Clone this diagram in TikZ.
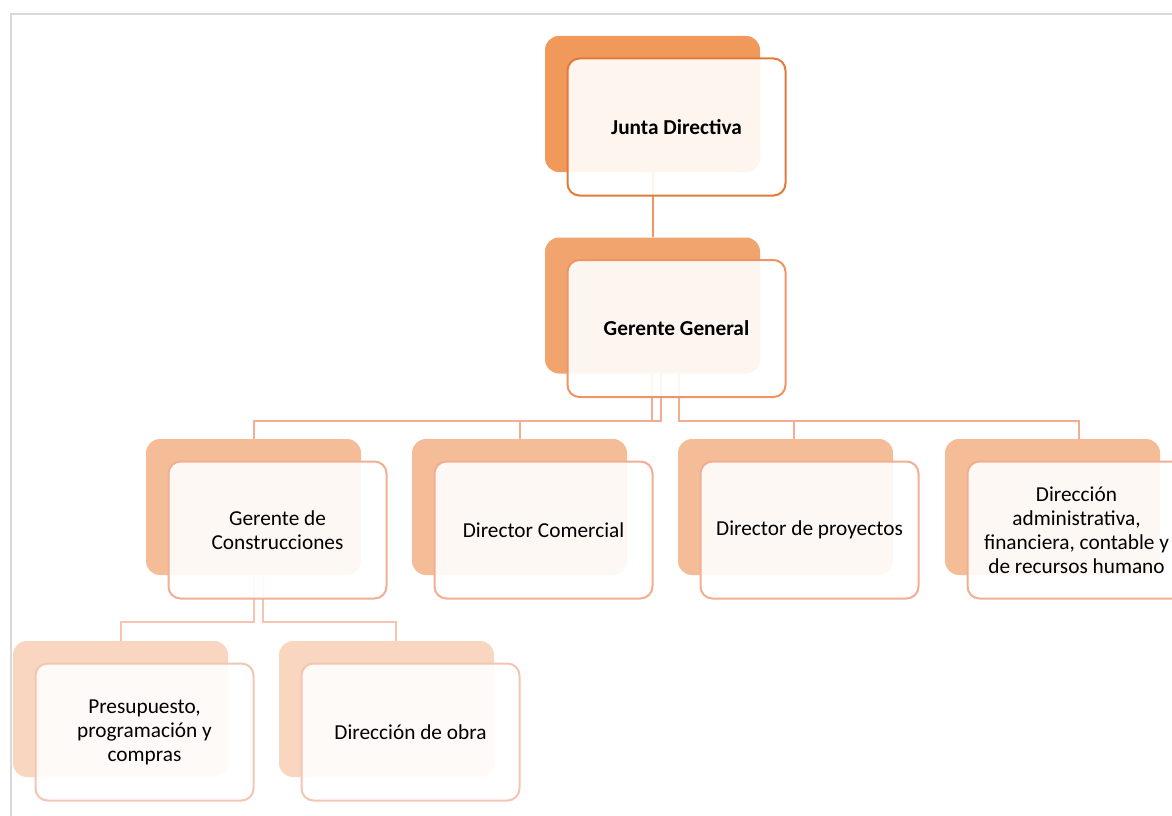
\documentclass[tikz,border=0pt]{standalone}
\usepackage{fontspec}
\setmainfont{Carlito}

\definecolor{framegrey}{HTML}{D9D9D9}
\definecolor{oneback}{HTML}{F0995B}
\definecolor{oneline}{HTML}{E07B39}
\definecolor{twoback}{HTML}{F2A46F}
\definecolor{twoline}{HTML}{EF9565}
\definecolor{threeback}{HTML}{F5BD97}
\definecolor{threeline}{HTML}{F2AE92}
\definecolor{fourback}{HTML}{F8D6C0}
\definecolor{fourline}{HTML}{F5C5B2}

\tikzset{
	backbox/.style={rectangle, rounded corners=14, minimum width=215, minimum height=136, inner sep=0},
	frontbox/.style={rectangle, rounded corners=12, minimum width=218, minimum height=137, inner sep=2,
		fill=white, fill opacity=0.9, text opacity=1, line width=2, align=center,
		font=\fontsize{21.3}{24}\selectfont},
	link/.style={line width=2}
}

\begin{document}
\begin{tikzpicture}[x=1pt,y=-1pt]
	\useasboundingbox (0,0) rectangle (1172,816);
	\clip (0,0) rectangle (1172,816);
	\draw[framegrey,line width=2] (1172,14) -- (11,14) -- (11,816);

	% back shapes
	\node[backbox,fill=oneback] (jdB) at (652.5,104) {};
	\node[backbox,fill=twoback] (ggB) at (652.5,305.5) {};
	\node[backbox,fill=threeback] (gcB) at (253.5,507) {};
	\node[backbox,fill=threeback] (dcB) at (519.5,507) {};
	\node[backbox,fill=threeback] (dpB) at (785.5,507) {};
	\node[backbox,fill=threeback] (daB) at (1052.5,507) {};
	\node[backbox,fill=fourback] (ppB) at (120.5,709) {};
	\node[backbox,fill=fourback] (doB) at (386.5,709) {};

	% connectors
	\draw[link,twoline] (jdB.south) -- (ggB.north);
	\draw[link,threeline] ([xshift=-0.5]ggB.south) -- ++(0,47) -| (gcB.north);
	\draw[link,threeline] ([xshift=8.5]ggB.south) -- ++(0,47) -| (dcB.north);
	\draw[link,threeline] ([xshift=26.5]ggB.south) -- ++(0,47) -| ([xshift=8.5]dpB.north);
	\draw[link,threeline] ([xshift=26.5]ggB.south) -- ++(0,47) -| ([xshift=26]daB.north);
	\draw[link,fourline] (gcB.south) -- ++(0,47) -| (ppB.north);
	\draw[link,fourline] ([xshift=9]gcB.south) -- ++(0,47) -| ([xshift=9.5]doB.north);

	% front shapes with the texts
	\node[frontbox,draw=oneline] (jd) at ([shift={(24,23)}]jdB.center) {\textbf{Junta Directiva}};
	\node[frontbox,draw=twoline] (gg) at ([shift={(24,23)}]ggB.center) {\textbf{Gerente General}};
	\node[frontbox,draw=threeline] (gc) at ([shift={(24,23)}]gcB.center) {Gerente de\\Construcciones};
	\node[frontbox,draw=threeline] (dc) at ([shift={(24,23)}]dcB.center) {Director Comercial};
	\node[frontbox,draw=threeline] (dp) at ([shift={(24,23)}]dpB.center) {Director de proyectos};
	\node[frontbox,draw=threeline] (da) at ([shift={(24,23)}]daB.center) {Dirección\\administrativa,\\financiera, contable y\\de recursos humano};
	\node[frontbox,draw=fourline] (pp) at ([shift={(24,23)}]ppB.center) {Presupuesto,\\programación y\\compras};
	\node[frontbox,draw=fourline] (do) at ([shift={(24,23)}]doB.center) {Dirección de obra};
\end{tikzpicture}
\end{document}
